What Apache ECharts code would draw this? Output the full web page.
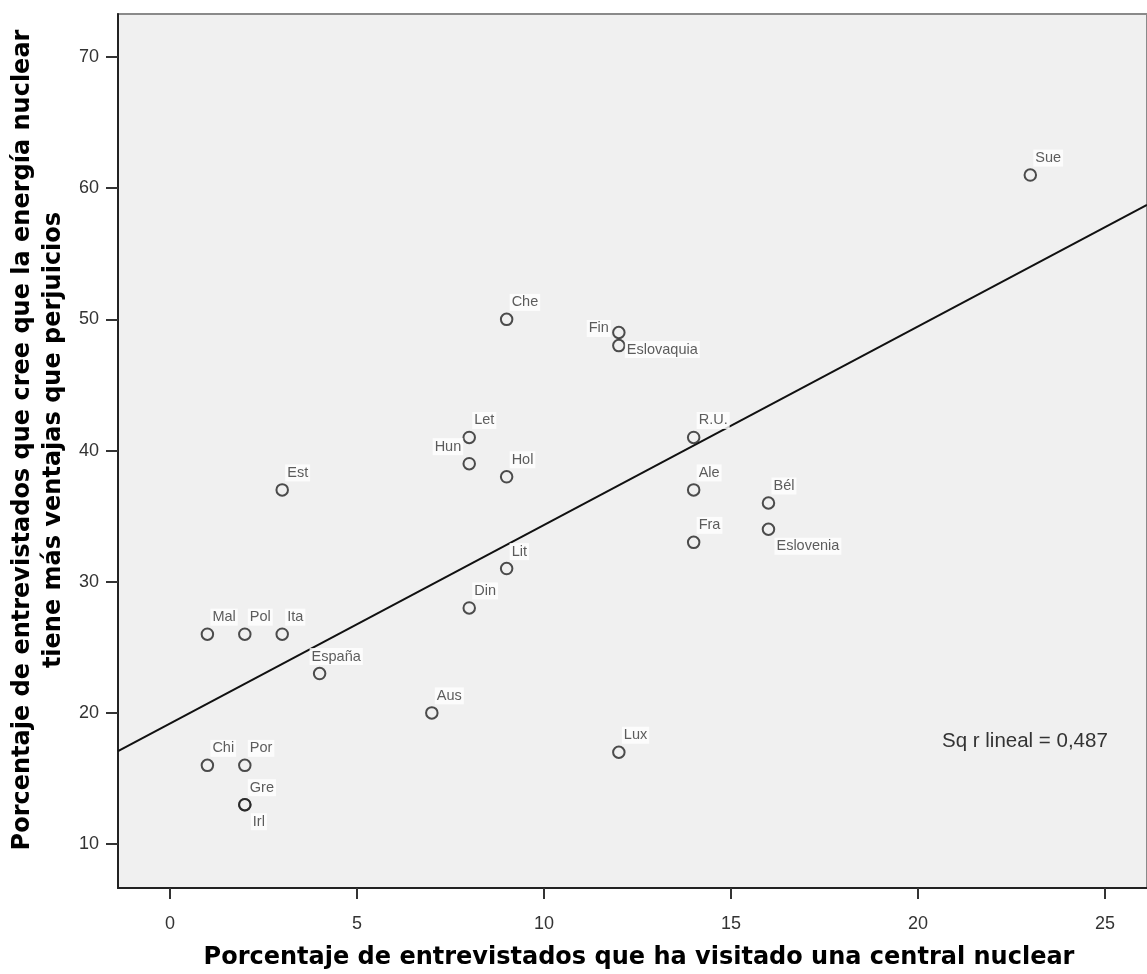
<!DOCTYPE html>
<html>
<head>
<meta charset="utf-8">
<script src="https://cdn.jsdelivr.net/npm/echarts@6/dist/echarts.min.js"></script>
<style>
html,body{margin:0;padding:0;background:#fff;}
#chart{width:1147px;height:974px;}
</style>
</head>
<body>
<div id="chart"></div>
<script>
// ---- data ----
const countries = ['Sue','Che','Fin','Eslovaquia','Let','Hun','Hol','R.U.','Ale','Bél','Eslovenia','Fra','Est','Lit','Din','Mal','Pol','Ita','España','Aus','Lux','Chi','Por','Gre','Irl'];
const visited   = [23, 9, 12, 12, 8, 8, 9, 14, 14, 16, 16, 14, 3, 9, 8, 1, 2, 3, 4, 7, 12, 1, 2, 2, 2];
const favorable = [61, 50, 49, 48, 41, 39, 38, 41, 37, 36, 34, 33, 37, 31, 28, 26, 26, 26, 23, 20, 17, 16, 16, 13, 13];
const xTicks = [0, 5, 10, 15, 20, 25];
const yTicks = [10, 20, 30, 40, 50, 60, 70];
const xTitle = 'Porcentaje de entrevistados que ha visitado una central nuclear';
const yTitle1 = 'Porcentaje de entrevistados que cree que la energía nuclear';
const yTitle2 = 'tiene más ventajas que perjuicios';
const fitText = 'Sq r lineal = 0,487';

// ---- styles / layout ----
const X_MIN = -1.39, X_MAX = 26.12, Y_MIN = 6.65, Y_MAX = 73.28;
const SYM = 11.5;
const FONT = "'Liberation Sans', Arial, sans-serif";
const TITLE_FONT = "bold 24px 'DejaVu Sans', Verdana, sans-serif";
// label anchor offsets [dx, dy, align] relative to point centre
const labelPlacement = {
  'default':    [4, -16, 'left'],
  'Fin':        [-7, -3, 'right'],
  'Hun':        [-5, -16, 'right'],
  'España':     [-9, -16, 'left'],
  'Eslovaquia': [7, 5, 'left'],
  'Eslovenia':  [7, 18, 'left'],
  'Irl':        [7, 18, 'left']
};

// least-squares fit
const n = visited.length;
const mx = visited.reduce((a,b)=>a+b,0)/n;
const my = favorable.reduce((a,b)=>a+b,0)/n;
let sxy = 0, sxx = 0;
for (let i=0;i<n;i++){ sxy += (visited[i]-mx)*(favorable[i]-my); sxx += (visited[i]-mx)**2; }
const slope = sxy/sxx, icpt = my - slope*mx;
const fitLine = [[X_MIN, icpt + slope*X_MIN], [X_MAX, icpt + slope*X_MAX]];

const points = countries.map((c,i)=>{
  const p = labelPlacement[c] || labelPlacement['default'];
  return {
    name: c,
    value: [visited[i], favorable[i]],
    label: {
      position: [SYM/2 + p[0], SYM/2 + p[1]],
      align: p[2],
      verticalAlign: 'middle'
    }
  };
});

const chart = echarts.init(document.getElementById('chart'), null, {renderer:'canvas'});
chart.setOption({
  animation: false,
  backgroundColor: '#ffffff',
  grid: {
    left: 118, top: 14, right: 0, bottom: 86,
    show: true, backgroundColor: '#f0f0f0', borderColor: '#8a8a8a', borderWidth: 2
  },
  xAxis: {
    type: 'value', min: X_MIN, max: X_MAX,
    splitLine: {show:false},
    axisLine: {show:true, onZero:false, lineStyle:{color:'#222', width:2}},
    axisTick: {show:true, length:11, customValues: xTicks, lineStyle:{color:'#333', width:2}},
    axisLabel: {customValues: xTicks, margin: 27, color:'#333', fontSize: 18, fontFamily: FONT}
  },
  yAxis: {
    type: 'value', min: Y_MIN, max: Y_MAX,
    splitLine: {show:false},
    axisLine: {show:true, onZero:false, lineStyle:{color:'#222', width:2}},
    axisTick: {show:true, length:12, customValues: yTicks, lineStyle:{color:'#333', width:2}},
    axisLabel: {customValues: yTicks, margin: 19, color:'#333', fontSize: 18, fontFamily: FONT}
  },
  graphic: [
    {type:'text', x: 639, y: 958, style:{text: xTitle, font: TITLE_FONT, fill:'#000', align:'center', verticalAlign:'middle'}},
    {type:'text', x: 23, y: 440, rotation: Math.PI/2, style:{text: yTitle1, font: TITLE_FONT, fill:'#000', align:'center', verticalAlign:'middle'}},
    {type:'text', x: 54, y: 440, rotation: Math.PI/2, style:{text: yTitle2, font: TITLE_FONT, fill:'#000', align:'center', verticalAlign:'middle'}},
    {type:'text', x: 942, y: 741, style:{text: fitText, font: "20.5px " + FONT, fill:'#333', align:'left', verticalAlign:'middle'}}
  ],
  series: [
    {
      type: 'line', data: fitLine, symbol: 'none', silent: true, clip: true,
      lineStyle: {color:'#111', width:2}, z: 2
    },
    {
      type: 'scatter', data: points, symbol: 'circle', symbolSize: SYM,
      itemStyle: {color:'rgba(0,0,0,0)', borderColor:'#222', borderWidth:2},
      label: {
        show: true, formatter: '{b}', color:'#333', fontSize: 14.5, fontFamily: FONT,
        backgroundColor:'#ffffff', padding:[1,2]
      },
      z: 3
    }
  ]
});
</script>
</body>
</html>
